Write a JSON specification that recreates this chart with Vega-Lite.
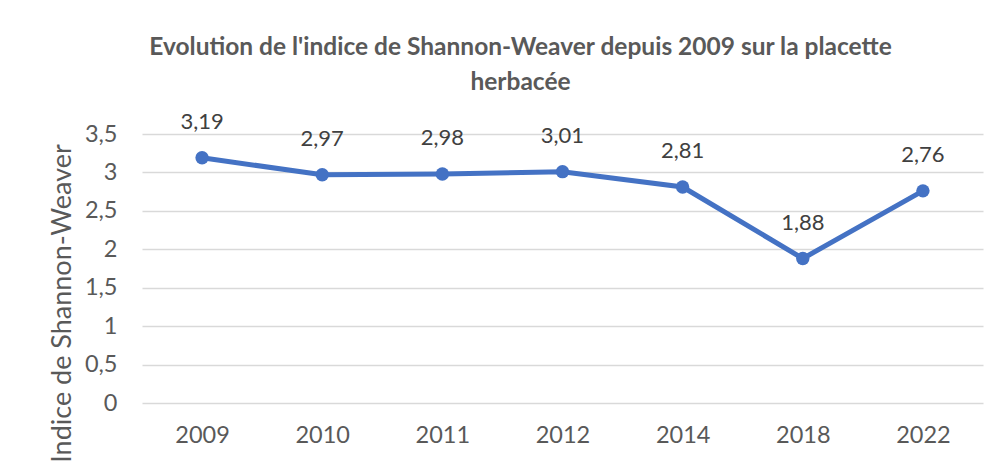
{
  "$schema": "https://vega.github.io/schema/vega-lite/v6.json",
  "autosize": {"type": "none"},
  "width": 841,
  "height": 269,
  "padding": {"left": 142, "top": 134, "right": 17, "bottom": 59},
  "background": "white",
  "title": {
    "text": ["Evolution de l'indice de Shannon-Weaver depuis 2009 sur la placette", "herbacée"],
    "anchor": "middle",
    "frame": "group",
    "dx": -42,
    "offset": 15,
    "font": "Lato",
    "fontSize": 24.5,
    "fontWeight": "bold",
    "color": "#595959",
    "lineHeight": 35
  },
  "data": {
    "values": [
      {"year": "2009", "value": 3.19, "label": "3,19"},
      {"year": "2010", "value": 2.97, "label": "2,97"},
      {"year": "2011", "value": 2.98, "label": "2,98"},
      {"year": "2012", "value": 3.01, "label": "3,01"},
      {"year": "2014", "value": 2.81, "label": "2,81"},
      {"year": "2018", "value": 1.88, "label": "1,88"},
      {"year": "2022", "value": 2.76, "label": "2,76"}
    ]
  },
  "encoding": {
    "x": {
      "field": "year", "type": "ordinal", "sort": null,
      "axis": {"title": null, "labelAngle": 0, "domain": false, "ticks": false, "grid": false, "labelPadding": 20, "labelFont": "Lato", "labelFontSize": 23.5, "labelColor": "#595959"}
    },
    "y": {
      "field": "value", "type": "quantitative",
      "scale": {"domain": [0, 3.5], "nice": false, "zero": true},
      "axis": {
        "title": "Indice de Shannon-Weaver",
        "titleFont": "Lato", "titleFontSize": 27, "titleFontWeight": "normal", "titleColor": "#595959",
        "titleX": -80, "titleY": 169, "titleAngle": -90, "titleAlign": "center", "titleBaseline": "middle",
        "values": [0, 0.5, 1, 1.5, 2, 2.5, 3, 3.5],
        "labelExpr": "replace(format(datum.value, '~g'), '.', ',')",
        "labelFont": "Lato", "labelFontSize": 23.5, "labelColor": "#595959", "labelPadding": 25,
        "domain": false, "ticks": false,
        "grid": true, "gridColor": "#d9d9d9", "gridWidth": 1.5
      }
    }
  },
  "layer": [
    {"mark": {"type": "line", "color": "#4472C4", "strokeWidth": 5}},
    {"mark": {"type": "point", "filled": true, "color": "#4472C4", "opacity": 1, "size": 180}},
    {"mark": {"type": "text", "dy": -36, "baseline": "middle", "font": "Lato", "fontSize": 22, "color": "#404040"},
     "encoding": {"text": {"field": "label"}}}
  ],
  "config": {"view": {"stroke": null}}
}
